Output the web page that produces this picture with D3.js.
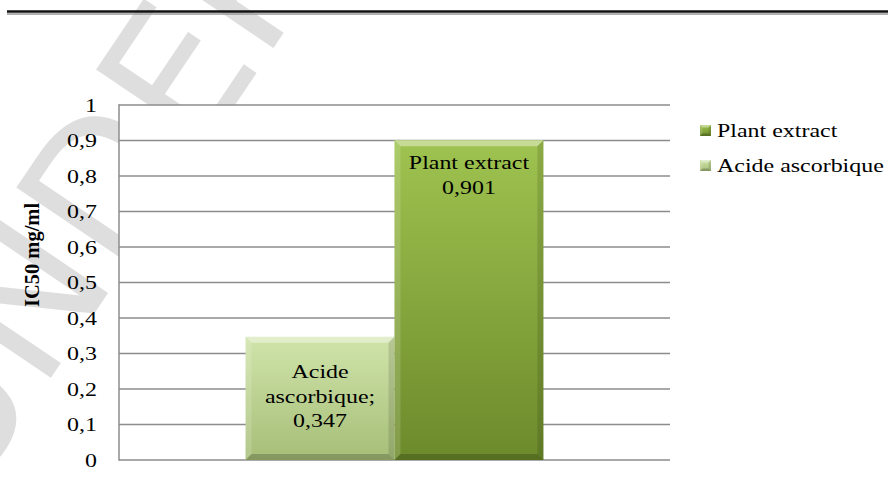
<!DOCTYPE html>
<html>
<head>
<meta charset="utf-8">
<script src="https://cdn.jsdelivr.net/npm/d3@7"></script>
<style>
  html, body { margin: 0; padding: 0; background: #fff; }
  svg { display: block; }
  text { font-family: "Liberation Serif", "Times New Roman", serif; fill: #000; }
</style>
</head>
<body>
<svg class="myChart" width="888" height="477"></svg>
<script>
// chart values
const series = ["Acide ascorbique", "Plant extract"];
const values = [0.347, 0.901];
const barLabels = [["Acide", "ascorbique;", "0,347"], ["Plant extract", "0,901"]];
const legendOrder = ["Plant extract", "Acide ascorbique"];
const yTicks = [0, 0.1, 0.2, 0.3, 0.4, 0.5, 0.6, 0.7, 0.8, 0.9, 1];
const tickLabels = ["0", "0,1", "0,2", "0,3", "0,4", "0,5", "0,6", "0,7", "0,8", "0,9", "1"];
const yTitle = "IC50 mg/ml";

const colors = {
  "Acide ascorbique": ["#d0e4aa", "#a6be78"],
  "Plant extract": ["#9fc350", "#6c8a2b"]
};

const SX = 1.26; // text in the picture is a bit wide
const plot = {left: 119, right: 670, top: 105, bottom: 460};

const svg = d3.select('svg.myChart');
const defs = svg.append('defs');

series.forEach((s, i) => {
  const g = defs.append('linearGradient')
    .attr('id', 'grad' + i)
    .attr('x1', 0).attr('y1', 0).attr('x2', 0).attr('y2', 1);
  g.append('stop').attr('offset', '0%').attr('stop-color', colors[s][0]);
  g.append('stop').attr('offset', '100%').attr('stop-color', colors[s][1]);
});

function stretch(sel) {
  sel.each(function() {
    const t = d3.select(this);
    const x = +t.attr('x') || 0, y = +t.attr('y') || 0;
    t.attr('x', null).attr('y', null)
      .attr('transform', `translate(${x},${y}) scale(${SX},1)`);
  });
}

function bevel(g, x0, y0, w, h, b) {
  const pts = [
    [[x0, y0], [x0 + w, y0], [x0 + w - b, y0 + b], [x0 + b, y0 + b], 'rgba(255,255,255,0.4)'],
    [[x0, y0], [x0 + b, y0 + b], [x0 + b, y0 + h - b], [x0, y0 + h], 'rgba(255,255,255,0.15)'],
    [[x0 + w, y0], [x0 + w, y0 + h], [x0 + w - b, y0 + h - b], [x0 + w - b, y0 + b], 'rgba(0,0,0,0.12)'],
    [[x0, y0 + h], [x0 + b, y0 + h - b], [x0 + w - b, y0 + h - b], [x0 + w, y0 + h], 'rgba(0,0,0,0.2)']
  ];
  pts.forEach(p => {
    g.append('polygon')
      .attr('points', p.slice(0, 4).map(q => q.join(',')).join(' '))
      .attr('fill', p[4]);
  });
}

// watermark behind everything
svg.append('text')
  .attr('transform', 'translate(-35,505) rotate(-56)')
  .style('font-family', '"DejaVu Sans", sans-serif')
  .style('font-size', '185px')
  .style('fill', '#dedede')
  .text('UNDER REVIEW');

// page rule at the top
svg.append('line').attr('x1', 7).attr('x2', 888).attr('y1', 11.5).attr('y2', 11.5)
  .attr('stroke', '#111').attr('stroke-width', 2.5);
svg.append('line').attr('x1', 7).attr('x2', 888).attr('y1', 14).attr('y2', 14)
  .attr('stroke', '#999').attr('stroke-width', 1.5);

const render = () => {
  const yScale = d3.scaleLinear()
    .domain([0, 1])
    .range([plot.bottom, plot.top]);

  const xScale = d3.scaleBand()
    .domain(series)
    .range([plot.left, plot.right])
    .paddingInner(0)
    .paddingOuter(0.85);

  // plot area
  svg.append('rect')
    .attr('x', plot.left).attr('y', plot.top)
    .attr('width', plot.right - plot.left).attr('height', plot.bottom - plot.top)
    .attr('fill', '#fff');

  svg.selectAll('.grid-line').data(yTicks)
    .enter().append('line')
    .attr('class', 'grid-line')
    .attr('x1', plot.left).attr('x2', plot.right)
    .attr('y1', d => yScale(d)).attr('y2', d => yScale(d))
    .attr('stroke', '#8c8c8c').attr('stroke-width', 1.5);

  const yAxis = d3.axisLeft(yScale)
    .tickValues(yTicks)
    .tickFormat((d, i) => tickLabels[i])
    .tickSize(0)
    .tickPadding(22);

  const ax = svg.append('g')
    .attr('transform', `translate(${plot.left},0)`)
    .call(yAxis);
  ax.select('.domain').remove();
  ax.selectAll('text')
    .style('font-family', '"Liberation Serif", "Times New Roman", serif')
    .style('font-size', '19px')
    .attr('fill', '#000')
    .call(stretch);

  svg.append('line')
    .attr('x1', plot.left).attr('x2', plot.left)
    .attr('y1', plot.top - 0.75).attr('y2', plot.bottom + 0.75)
    .attr('stroke', '#8c8c8c').attr('stroke-width', 1.5);

  svg.append('text')
    .attr('transform', `translate(39,255) rotate(-90)`)
    .attr('text-anchor', 'middle')
    .style('font-size', '20.5px')
    .style('font-weight', 'bold')
    .text(yTitle);

  // bars
  series.forEach((s, i) => {
    const x0 = xScale(s), w = xScale.bandwidth();
    const y0 = yScale(values[i]), h = yScale(0) - yScale(values[i]);
    const g = svg.append('g');
    g.append('rect')
      .attr('x', x0).attr('y', y0)
      .attr('width', w).attr('height', h)
      .attr('fill', `url(#grad${i})`);
    bevel(g, x0, y0, w, h, 6);
  });

  // labels inside bars
  const labelBase = {"Acide ascorbique": 378, "Plant extract": 169};
  series.forEach((s, i) => {
    const cx = xScale(s) + xScale.bandwidth() / 2;
    svg.selectAll('.lbl' + i).data(barLabels[i])
      .enter().append('text')
      .attr('class', 'lbl' + i)
      .attr('x', cx)
      .attr('y', (d, j) => labelBase[s] + j * 24.7)
      .attr('text-anchor', 'middle')
      .style('font-size', '19px')
      .text(d => d)
      .call(stretch);
  });

  // legend
  const lg = svg.append('g').attr('transform', 'translate(700,0)');
  legendOrder.forEach((s, i) => {
    const base = 137 + i * 35;
    const k = series.indexOf(s);
    lg.append('rect')
      .attr('x', 0).attr('y', base - 12)
      .attr('width', 11).attr('height', 11)
      .attr('fill', `url(#grad${k})`);
    bevel(lg, 0, base - 12, 11, 11, 2.5);
    lg.append('text')
      .attr('x', 17).attr('y', base)
      .style('font-size', '19px')
      .text(s)
      .call(stretch);
  });
};

render();
</script>
</body>
</html>
